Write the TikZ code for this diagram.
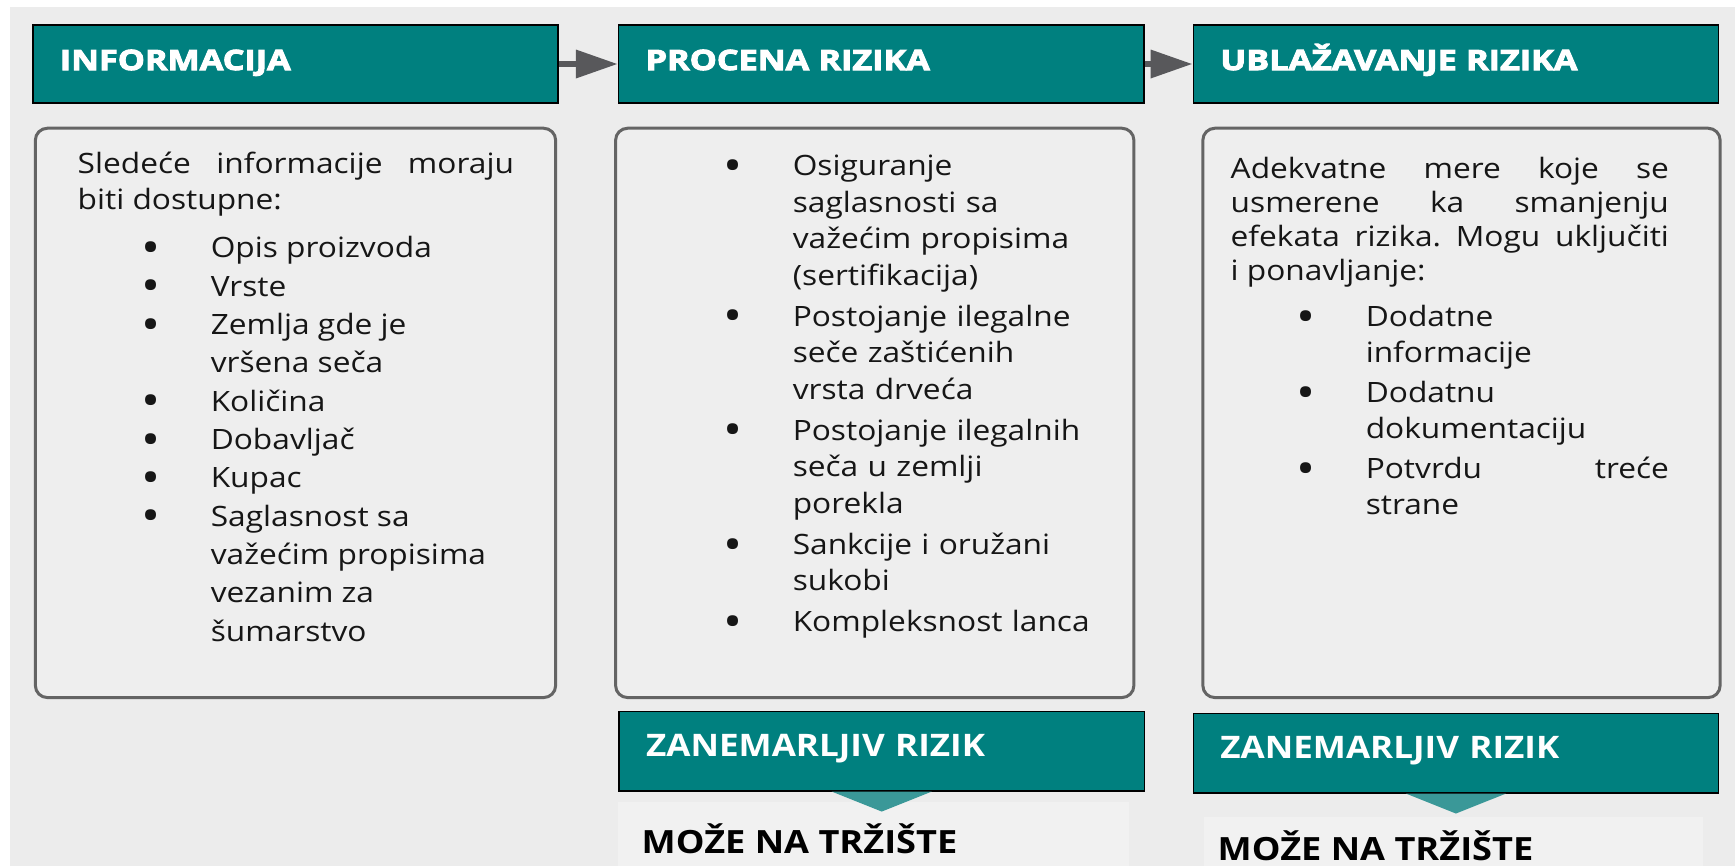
\documentclass[tikz,border=0pt]{standalone}
\usepackage{fontspec}
\setmainfont{Open Sans}[FakeStretch=1.13]
\newfontfamily\headfont{Open Sans}[FakeStretch=1.22,BoldFeatures={FakeBold=3.5}]
\usepackage{enumitem}
\usetikzlibrary{positioning,arrows.meta}

\definecolor{tealhead}{RGB}{0,128,127}
\definecolor{tealtri}{RGB}{58,152,152}
\definecolor{bggray}{RGB}{236,236,236}
\definecolor{boxgray}{RGB}{238,238,238}
\definecolor{papergray}{RGB}{241,241,241}
\definecolor{linegray}{RGB}{100,100,100}
\definecolor{arrgray}{RGB}{88,88,91}
\definecolor{txtblack}{RGB}{22,22,22}

\newcommand{\dotmark}{\smash{\raisebox{-0.2em}{\scalebox{1.6}{\textbullet}}}}
\setlist[itemize]{label=\dotmark,leftmargin=1.33cm,labelsep=0.5cm,
  itemsep=0pt,parsep=0pt,partopsep=0pt,topsep=0pt}

\tikzset{
  tealbox/.style={draw=black,line width=0.4pt,fill=tealhead,text=white,
    minimum width=5.25cm,inner xsep=0.27cm,inner ysep=0pt,
    text width=4.71cm,align=left},
  head/.style={tealbox,minimum height=0.78cm,text height=0.2cm,text depth=0.08cm,
    font=\headfont\bfseries\fontsize{7.97pt}{9pt}\selectfont},
  risk/.style={tealbox,minimum height=0.79cm,text height=0.22cm,text depth=0.11cm,
    font=\bfseries\fontsize{8.82pt}{10pt}\selectfont},
  panel/.style={draw=linegray,line width=0.03cm,fill=boxgray,
    rounded corners=0.12cm,minimum height=5.69cm},
  bodytext/.style={inner sep=0pt,anchor=base west,text=txtblack,align=justify},
  market/.style={inner sep=0pt,anchor=base west,text=black,
    font=\bfseries\fontsize{9.1pt}{11pt}\selectfont},
  flow/.style={-{Triangle[length=0.42cm,width=0.27cm]},line width=0.065cm,draw=arrgray}
}

\begin{document}
\begin{tikzpicture}[x=0.01cm,y=-0.01cm]
  \useasboundingbox (0,0) rectangle (1735,866);
  \fill[bggray] (10,7) rectangle (1735,866);

  % headers
  \node [head] (hInfo) at (295.5,64) {INFORMACIJA};
  \node [head,right=0.59cm of hInfo] (hProc) {PROCENA RIZIKA};
  \node [head,right=0.48cm of hProc] (hUbl) {UBLAŽAVANJE RIZIKA};

  \draw [flow] (hInfo) -- (hProc);
  \draw [flow] (hProc) -- (hUbl);

  % panels
  \node [panel,minimum width=5.2cm,below=0.23cm of hInfo] (pInfo) {};
  \node [panel,minimum width=5.18cm,below=0.23cm of hProc,xshift=-0.065cm] (pProc) {};
  \node [panel,minimum width=5.17cm,below=0.23cm of hUbl,xshift=0.055cm] (pUbl) {};

  \node [bodytext,text width=4.36cm,font=\fontsize{7.97pt}{10.24pt}\selectfont] (tInfo) at (77,173) {%
    Sledeće\hfill informacije\hfill moraju\\
    biti dostupne:\par
    \fontsize{7.97pt}{10.9pt}\selectfont
    \begin{itemize}[topsep=3pt]
      \item Opis proizvoda
      \item Vrste
      \item Zemlja gde je\\ vršena seča
      \item Količina
      \item Dobavljač
      \item Kupac
      \item Saglasnost sa\\ važećim propisima\\ vezanim za\\ šumarstvo
    \end{itemize}};

  \node [bodytext,text width=4.45cm,align=left,font=\fontsize{7.97pt}{10.39pt}\selectfont] (tProc) at (659,139) {%
    \begin{itemize}[itemsep=1.28pt]
      \item Osiguranje\\ saglasnosti sa\\ važećim propisima\\ (sertifikacija)
      \item Postojanje ilegalne\\ seče zaštićenih\\ vrsta drveća
      \item Postojanje ilegalnih\\ seča u zemlji\\ porekla
      \item Sankcije i oružani\\ sukobi
      \item Kompleksnost lanca
    \end{itemize}};

  \node [bodytext,text width=4.38cm,font=\fontsize{7.97pt}{9.75pt}\selectfont] (tUbl) at (1230,178) {%
    Adekvatne\hfill mere\hfill koje\hfill se\\
    usmerene\hfill ka\hfill smanjenju\\
    efekata\hfill rizika.\hfill Mogu\hfill uključiti\\
    i ponavljanje:\par
    \fontsize{7.97pt}{10.1pt}\selectfont
    \begin{itemize}[topsep=3pt,itemsep=1.42pt,leftmargin=1.35cm]
      \item Dodatne\\ informacije
      \item Dodatnu\\ dokumentaciju
      \item Potvrdu\hfill treće\\ strane
    \end{itemize}};

  % outcome
  \fill [papergray] (618,802) rectangle (1129,866);
  \fill [papergray] (1204,817) rectangle (1703,866);

  \node [risk,below=0.12cm of pProc,xshift=0.07cm] (zProc) {ZANEMARLJIV RIZIK};
  \node [risk,below=0.14cm of pUbl,xshift=-0.055cm] (zUbl) {ZANEMARLJIV RIZIK};

  \fill [tealtri] ([xshift=-0.5cm]zProc.south) -- ([xshift=0.5cm]zProc.south)
    -- ([yshift=-0.2cm]zProc.south) -- cycle;
  \fill [tealtri] ([xshift=-0.5cm]zUbl.south) -- ([xshift=0.5cm]zUbl.south)
    -- ([yshift=-0.2cm]zUbl.south) -- cycle;

  \node [market] (mProc) at (641,853) {MOŽE NA TRŽIŠTE};
  \node [market] (mUbl) at (1217,860) {MOŽE NA TRŽIŠTE};

\end{tikzpicture}
\end{document}
